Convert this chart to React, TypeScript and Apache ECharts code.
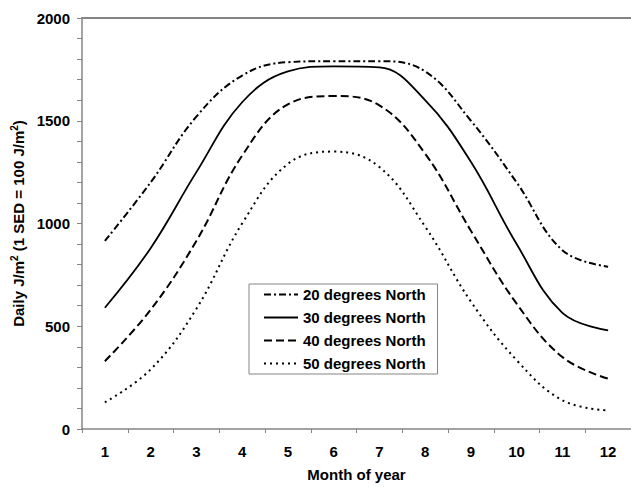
import React, { useEffect, useRef } from "react";
import * as echarts from "echarts";

const months = ["1", "2", "3", "4", "5", "6", "7", "8", "9", "10", "11", "12"];
const seriesNames = ["20 degrees North", "30 degrees North", "40 degrees North", "50 degrees North"];
const north20 = [915, 1200, 1520, 1720, 1785, 1790, 1790, 1740, 1500, 1200, 870, 790];
const north30 = [590, 880, 1250, 1590, 1740, 1765, 1760, 1600, 1300, 900, 565, 480];
const north40 = [330, 580, 915, 1330, 1580, 1620, 1575, 1340, 965, 610, 350, 245];
const north50 = [130, 290, 585, 1000, 1290, 1350, 1275, 985, 620, 335, 140, 90];
const yTicks = { min: 0, max: 2000, interval: 500 };

const FONT = "Arial, 'Liberation Sans', sans-serif";
const GRAY = "#858585";
const FS = 15;

export default function App() {
  const ref = useRef<HTMLDivElement>(null);
  useEffect(() => {
    if (!ref.current) return;
    const chart = echarts.init(ref.current, null, { renderer: "svg" });
    const dashes: any[] = [[7, 3, 2, 3], "solid", [8, 4], [2, 4]];
    const data = [north20, north30, north40, north50];
    chart.setOption({
      animation: false,
      backgroundColor: "#fff",
      textStyle: { fontFamily: FONT },
      grid: { left: 82, top: 18, right: -8, bottom: 56, containLabel: false },
      legend: {
        orient: "vertical",
        left: 249,
        top: 284,
        padding: [3, 12, 3, 14],
        itemGap: 8,
        itemWidth: 34,
        itemHeight: 14,
        borderColor: GRAY,
        borderWidth: 1,
        backgroundColor: "#fff",
        data: seriesNames,
        itemStyle: { opacity: 0 },
        textStyle: { fontSize: FS, fontWeight: "bold", color: "#000", fontFamily: FONT, lineHeight: 14 },
      },
      xAxis: [
        {
          type: "category",
          data: months,
          boundaryGap: true,
          name: "Month of year",
          nameLocation: "middle",
          nameGap: 38,
          nameTextStyle: { fontSize: FS, fontWeight: "bold", color: "#000", fontFamily: FONT },
          axisLine: { lineStyle: { color: GRAY, width: 1.5 } },
          axisTick: { show: true, length: 4, inside: false, lineStyle: { color: GRAY } },
          axisLabel: { fontSize: FS, fontWeight: "bold", color: "#000", margin: 15, fontFamily: FONT },
          splitLine: { show: false },
        },
        {
          type: "category",
          data: months,
          position: "top",
          axisLine: { lineStyle: { color: GRAY, width: 2 } },
          axisTick: { show: false },
          axisLabel: { show: false },
          splitLine: { show: false },
        },
      ],
      yAxis: {
        type: "value",
        min: yTicks.min,
        max: yTicks.max,
        interval: yTicks.interval,
        name: "{a|Daily J/m}{s|2}{a| (1 SED = 100 J/m}{s|2}{a|)}",
        nameLocation: "middle",
        nameRotate: 90,
        nameGap: 49,
        nameTextStyle: {
          rich: {
            a: { fontSize: FS, fontWeight: "bold", color: "#000", fontFamily: FONT, lineHeight: 18 },
            s: { fontSize: 10, fontWeight: "bold", color: "#000", fontFamily: FONT, verticalAlign: "top", lineHeight: 11 },
          },
        },
        axisLine: { show: true, lineStyle: { color: GRAY, width: 1.5 } },
        axisTick: { show: true, length: 5, lineStyle: { color: GRAY } },
        minorTick: { show: true, splitNumber: 5, length: 5, lineStyle: { color: GRAY } },
        axisLabel: {
          fontSize: FS,
          fontWeight: "bold",
          color: "#000",
          margin: 12,
          fontFamily: FONT,
          formatter: (v: number) => String(v),
        },
        splitLine: { show: false },
      },
      series: seriesNames.map((name, i) => ({
        name,
        type: "line",
        data: data[i],
        smooth: 0.4,
        symbol: "none",
        showSymbol: false,
        lineStyle: { color: "#000", width: i === 1 ? 1.8 : 2, type: dashes[i] },
        itemStyle: { color: "#000" },
      })),
    });
    return () => chart.dispose();
  }, []);
  return (
    <div
      ref={ref}
      style={{ position: "fixed", left: 0, top: 0, width: 631, height: 487, background: "#fff" }}
    />
  );
}
